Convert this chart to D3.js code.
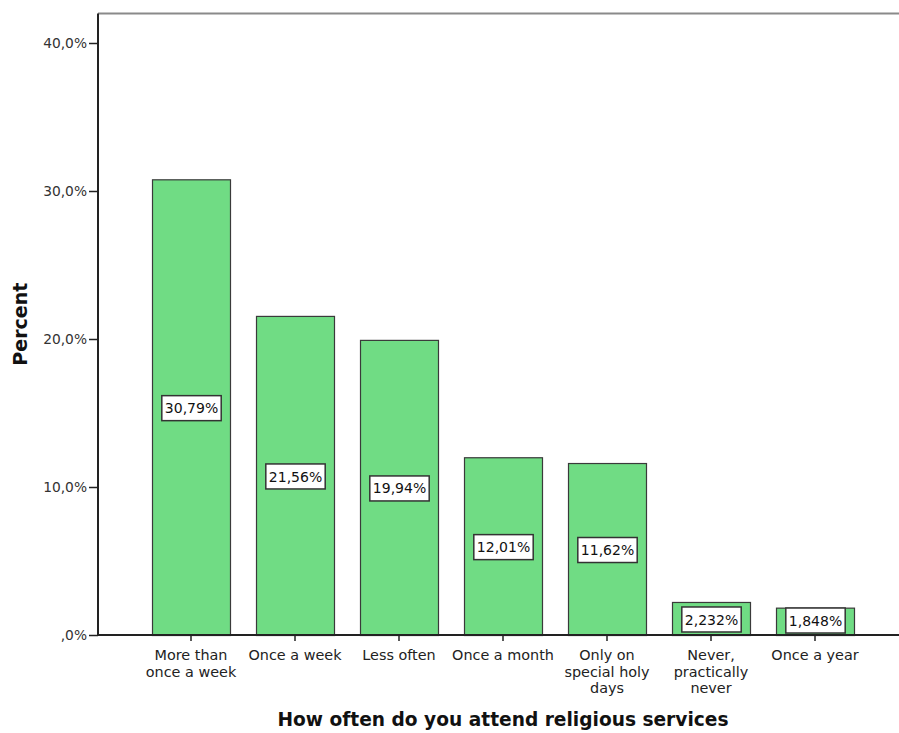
<!DOCTYPE html>
<html>
<head>
<meta charset="utf-8">
<script src="https://cdn.jsdelivr.net/npm/d3@7"></script>
<style>
  html, body { margin: 0; padding: 0; background: #fff; }
  svg { display: block; }
  text { font-family: "DejaVu Sans", sans-serif; }
</style>
</head>
<body>
<svg id="chart" width="899" height="733"></svg>
<script>
const categories = [
  ["More than", "once a week"],
  ["Once a week"],
  ["Less often"],
  ["Once a month"],
  ["Only on", "special holy", "days"],
  ["Never,", "practically", "never"],
  ["Once a year"]
];
const values = [30.79, 21.56, 19.94, 12.01, 11.62, 2.232, 1.848];
const valueLabels = ["30,79%", "21,56%", "19,94%", "12,01%", "11,62%", "2,232%", "1,848%"];
const yTicks = [0, 10, 20, 30, 40];
const yTickLabels = [",0%", "10,0%", "20,0%", "30,0%", "40,0%"];
const xTitle = "How often do you attend religious services";
const yTitle = "Percent";

const svg = d3.select("#chart");
const keys = categories.map((c, i) => i);

const x = d3.scaleBand().domain(keys).range([139, 867]).paddingInner(0.25).paddingOuter(0.125);
const y = d3.scaleLinear().domain([0, 40]).range([635, 43]);
const yTop = y(42);
const xLeft = 98;

// frame top line
svg.append("line").attr("x1", xLeft).attr("x2", 899).attr("y1", yTop).attr("y2", yTop)
  .attr("stroke", "#8a8a8a").attr("stroke-width", 2);

// bars
svg.selectAll("rect.bar").data(values).join("rect").attr("class", "bar")
  .attr("x", (d, i) => x(i) + 0.5)
  .attr("y", d => y(d) + 0.5)
  .attr("width", x.bandwidth())
  .attr("height", d => y(0) - y(d))
  .attr("fill", "#70dc84")
  .attr("stroke", "#3a3a3a").attr("stroke-width", 1.2);

// y axis
const yAxis = d3.axisLeft(y).tickValues(yTicks).tickSize(9).tickPadding(2)
  .tickFormat((d, i) => yTickLabels[i]);
const gy = svg.append("g").attr("transform", `translate(${xLeft},0)`).call(yAxis);
gy.select(".domain").attr("d", `M0,${y(0)}V${yTop}`).attr("stroke", "#222").attr("stroke-width", 2);
gy.selectAll(".tick line").attr("stroke", "#222").attr("stroke-width", 1.5);
gy.selectAll(".tick text").attr("font-family", "DejaVu Sans").attr("font-size", 13.8).attr("fill", "#333");

// x axis
const xAxis = d3.axisBottom(x).tickSize(6).tickFormat(() => "");
const gx = svg.append("g").attr("transform", `translate(0,${y(0)})`).call(xAxis);
gx.select(".domain").attr("d", `M${xLeft},0H899`).attr("stroke", "#222").attr("stroke-width", 2);
gx.selectAll(".tick line").attr("stroke", "#222").attr("stroke-width", 1.5);
gx.selectAll(".tick").each(function (d) {
  const t = d3.select(this).select("text").attr("font-size", 14.4).attr("fill", "#222")
    .attr("text-anchor", "middle").attr("dy", null).attr("y", 0);
  categories[d].forEach((line, j) => {
    t.append("tspan").attr("x", 0).attr("y", 25 + j * 16.5).text(line);
  });
});

// value labels
const boxH = 25;
const lbl = svg.selectAll("g.lbl").data(values).join("g").attr("class", "lbl")
  .attr("transform", (d, i) => {
    const cy = Math.min((y(d) + y(0)) / 2 + 1, y(0) - boxH / 2 - 2);
    return `translate(${x(i) + x.bandwidth() / 2 + 0.5},${cy})`;
  });
lbl.each(function (d, i) {
  const g = d3.select(this);
  const t = g.append("text").attr("text-anchor", "middle").attr("dy", "0.36em")
    .attr("font-size", 14).attr("fill", "#111").text(valueLabels[i]);
  const w = t.node().getComputedTextLength() + 6;
  g.insert("rect", "text").attr("x", -w / 2).attr("y", -boxH / 2).attr("width", w).attr("height", boxH)
    .attr("fill", "#fff").attr("stroke", "#333").attr("stroke-width", 1.5);
});

// axis titles
svg.append("text").attr("x", (139 + 867) / 2).attr("y", 726).attr("text-anchor", "middle")
  .attr("font-weight", "bold").attr("font-size", 18.6).attr("fill", "#111").text(xTitle);
svg.append("text").attr("transform", `translate(27,${(yTop + y(0)) / 2}) rotate(-90)`)
  .attr("text-anchor", "middle").attr("font-weight", "bold").attr("font-size", 19)
  .attr("fill", "#111").text(yTitle);
</script>
</body>
</html>
